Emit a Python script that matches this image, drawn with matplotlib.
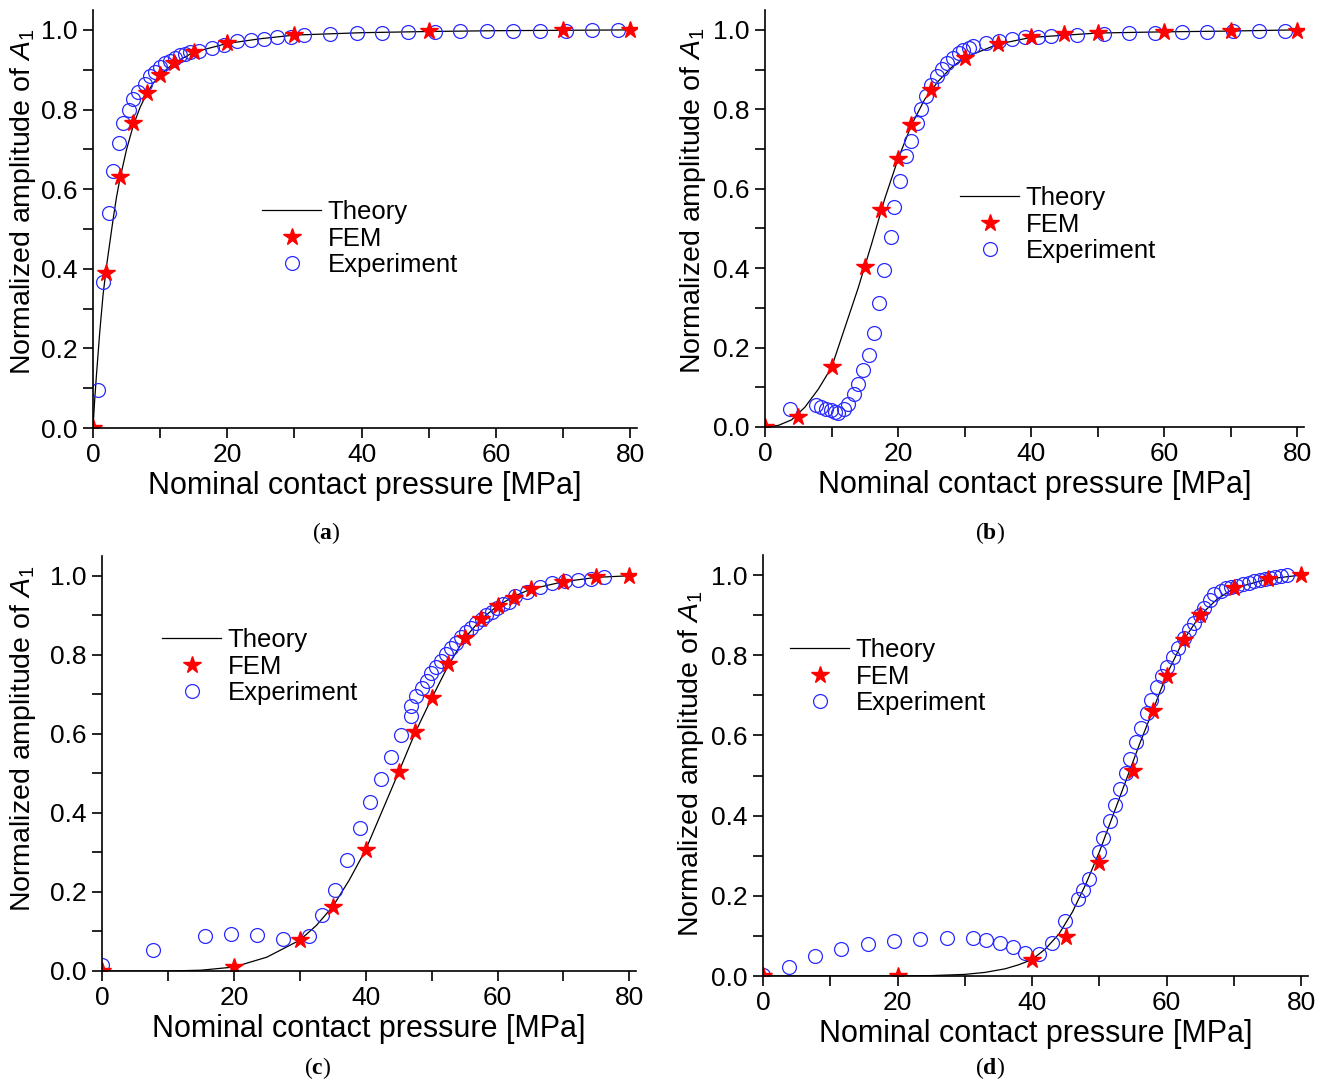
import matplotlib
matplotlib.use("Agg")
import matplotlib.pyplot as plt
from matplotlib.ticker import MultipleLocator

plt.rcParams['font.family'] = ['Liberation Sans', 'DejaVu Sans']
plt.rcParams['mathtext.fontset'] = 'custom'
plt.rcParams['mathtext.rm'] = 'Liberation Sans'
plt.rcParams['mathtext.it'] = 'Liberation Sans:italic'
plt.rcParams['mathtext.bf'] = 'Liberation Serif:bold'

# ---- panel (a) ----
theory_a_x = [0, 0.25, 0.5, 1, 1.5, 2, 2.5, 3, 3.5, 4, 5, 6, 7, 8, 9, 10, 12, 15, 20, 25, 30, 40, 50, 60, 70, 80]
theory_a_y = [0, 0.07, 0.13, 0.24, 0.335, 0.405, 0.465, 0.525, 0.58, 0.625, 0.70, 0.76, 0.805, 0.84, 0.867,
              0.887, 0.916, 0.944, 0.966, 0.978, 0.987, 0.993, 0.996, 0.998, 0.999, 1.0]
fem_a_x = [0, 2, 4, 6, 8, 10, 12, 15, 20, 30, 50, 70, 80]
fem_a_y = [0, 0.39, 0.63, 0.765, 0.842, 0.887, 0.916, 0.944, 0.966, 0.987, 0.996, 0.999, 1.0]
exp_a_x = [0.75, 1.5, 2.35, 3.0, 3.85, 4.5, 5.4, 6.0, 6.75, 7.75, 8.5, 9.25, 10.0, 10.75, 11.5, 12.25, 13.0,
           13.75, 14.5, 15.75, 17.65, 19.5, 21.5, 23.5, 25.4, 27.4, 29.5, 31.4, 35.25, 39.25, 43.0, 46.9,
           50.9, 54.7, 58.7, 62.6, 66.5, 70.4, 74.3, 78.2]
exp_a_y = [0.096, 0.367, 0.540, 0.645, 0.717, 0.765, 0.799, 0.826, 0.845, 0.864, 0.883, 0.895, 0.906, 0.916,
           0.923, 0.930, 0.936, 0.940, 0.944, 0.948, 0.955, 0.962, 0.971, 0.975, 0.978, 0.982, 0.983, 0.987,
           0.989, 0.992, 0.993, 0.994, 0.995, 0.996, 0.997, 0.997, 0.998, 0.998, 0.999, 0.999]

# ---- panel (b) ----
theory_b_x = [0, 2, 4, 6, 8, 10, 12, 14, 16, 18, 20, 22, 24, 26, 28, 30, 35, 40, 50, 60, 70, 80]
theory_b_y = [0, 0.004, 0.018, 0.05, 0.095, 0.15, 0.25, 0.35, 0.46, 0.575, 0.675, 0.76, 0.825, 0.87, 0.905,
              0.93, 0.964, 0.981, 0.992, 0.995, 0.997, 1.0]
fem_b_x = [0, 5, 10, 15, 17.5, 20, 22, 25, 30, 35, 40, 45, 50, 60, 70, 80]
fem_b_y = [0, 0.024, 0.150, 0.402, 0.546, 0.675, 0.760, 0.849, 0.930, 0.964, 0.981, 0.989, 0.992, 0.994,
           0.996, 0.997]
exp_b_x = [3.76, 7.67, 8.37, 9.12, 9.87, 10.5, 10.9, 11.8, 12.4, 13.3, 14.0, 14.8, 15.6, 16.4, 17.2, 17.9,
           18.9, 19.45, 20.3, 21.15, 21.9, 22.8, 23.5, 24.2, 25.0, 25.8, 26.6, 27.3, 28.2, 29.1, 29.8, 30.6,
           31.3, 33.2, 35.2, 37.1, 39.0, 41.0, 43.0, 46.9, 50.9, 54.7, 58.6, 62.6, 66.4, 70.4, 74.3, 78.2]
exp_b_y = [0.045, 0.055, 0.050, 0.046, 0.042, 0.038, 0.035, 0.046, 0.059, 0.082, 0.109, 0.143, 0.182, 0.237,
           0.313, 0.395, 0.479, 0.555, 0.620, 0.682, 0.721, 0.765, 0.800, 0.834, 0.861, 0.884, 0.901, 0.916,
           0.929, 0.941, 0.950, 0.955, 0.960, 0.966, 0.972, 0.976, 0.981, 0.983, 0.984, 0.988, 0.989, 0.991,
           0.993, 0.994, 0.995, 0.996, 0.996, 0.997]

# ---- panel (c) ----
theory_c_x = [0, 10, 15, 20, 25, 30, 32.5, 35, 37.5, 40, 42.5, 45, 47.5, 50, 52.5, 55, 57.5, 60, 62.5, 65,
              70, 75, 80]
theory_c_y = [0, 0, 0.002, 0.010, 0.035, 0.078, 0.115, 0.163, 0.23, 0.307, 0.405, 0.503, 0.603, 0.69, 0.772,
              0.842, 0.89, 0.924, 0.948, 0.966, 0.985, 0.996, 1.0]
fem_c_x = [0, 20, 30, 35, 40, 45, 47.5, 50, 52.5, 55, 57.5, 60, 62.5, 65, 70, 75, 80]
fem_c_y = [0, 0.010, 0.078, 0.163, 0.307, 0.503, 0.604, 0.690, 0.778, 0.842, 0.890, 0.924, 0.943, 0.966,
           0.985, 0.996, 1.0]
exp_c_x = [0, 7.77, 15.6, 19.5, 23.5, 27.4, 31.4, 33.35, 35.3, 37.2, 39.2, 40.7, 42.25, 43.8, 45.3, 46.9,
           46.9, 47.7, 48.5, 49.3, 49.95, 50.7, 51.4, 52.2, 52.9, 53.7, 54.5, 55.2, 56.0, 56.7, 57.6, 58.3,
           59.2, 59.95, 60.9, 61.7, 62.6, 64.5, 66.4, 68.3, 70.3, 72.2, 74.2, 76.1]
exp_c_y = [0.014, 0.054, 0.088, 0.093, 0.092, 0.080, 0.088, 0.141, 0.206, 0.281, 0.361, 0.427, 0.486, 0.541,
           0.598, 0.644, 0.670, 0.695, 0.716, 0.735, 0.753, 0.768, 0.785, 0.802, 0.816, 0.830, 0.844, 0.857,
           0.869, 0.880, 0.890, 0.901, 0.909, 0.918, 0.928, 0.934, 0.949, 0.960, 0.971, 0.981, 0.986, 0.990,
           0.993, 0.998]

# ---- panel (d) ----
theory_d_x = [0, 20, 25, 30, 33, 36, 38, 40, 42, 44, 46, 48, 50, 52, 54, 56, 58, 60, 62.5, 65, 67.5, 70,
              75, 80]
theory_d_y = [0, 0, 0.001, 0.004, 0.009, 0.018, 0.028, 0.041, 0.068, 0.105, 0.16, 0.23, 0.31, 0.40, 0.49,
              0.58, 0.665, 0.752, 0.838, 0.90, 0.94, 0.967, 0.99, 1.0]
fem_d_x = [0, 20, 40, 45, 50, 55, 58, 60, 62.5, 65, 70, 75, 80]
fem_d_y = [0, 0, 0.041, 0.097, 0.282, 0.512, 0.661, 0.749, 0.838, 0.900, 0.967, 0.990, 1.0]
exp_d_x = [0, 3.8, 7.8, 11.65, 15.6, 19.4, 23.4, 27.3, 31.2, 33.2, 35.2, 37.1, 39.0, 41.0, 43.0, 44.95,
           46.8, 47.6, 48.4, 49.9, 50.6, 51.5, 52.3, 53.0, 53.9, 54.6, 55.4, 56.2, 57.0, 57.7, 58.5, 59.3,
           60.1, 60.9, 61.7, 62.5, 63.3, 64.0, 64.9, 65.6, 66.4, 67.1, 68.0, 68.8, 69.5, 70.4, 71.3, 72.2,
           72.9, 73.8, 74.6, 75.4, 76.1, 77.0, 77.9]
exp_d_y = [0.002, 0.022, 0.049, 0.068, 0.079, 0.087, 0.093, 0.096, 0.095, 0.091, 0.082, 0.072, 0.058, 0.056,
           0.083, 0.136, 0.193, 0.215, 0.243, 0.309, 0.345, 0.387, 0.426, 0.466, 0.507, 0.542, 0.584, 0.619,
           0.656, 0.688, 0.720, 0.748, 0.770, 0.796, 0.819, 0.842, 0.863, 0.881, 0.900, 0.918, 0.938, 0.952,
           0.960, 0.968, 0.971, 0.973, 0.978, 0.981, 0.985, 0.988, 0.990, 0.993, 0.996, 0.998, 1.0]

W, H = 1327, 1082
fig = plt.figure(figsize=(W / 100, H / 100), dpi=100)

# axes boxes in pixels: left, right(x=81), bottom(y=0), top(y=1.05)
boxes = [(93, 637, 428, 10), (765, 1304, 427, 10), (102, 636, 971, 556), (763, 1308, 976, 555)]
legend_tl = [(262, 200), (960, 186), (162, 628), (790, 638)]
ylabel_pos = [(-0.101, 0.54), (-0.106, 0.542), (-0.12, 0.56), (-0.105, 0.505)]
captions = [('a', 326, 533), ('b', 990, 533), ('c', 318, 1068), ('d', 990, 1068)]
panels = [
    (theory_a_x, theory_a_y, fem_a_x, fem_a_y, exp_a_x, exp_a_y),
    (theory_b_x, theory_b_y, fem_b_x, fem_b_y, exp_b_x, exp_b_y),
    (theory_c_x, theory_c_y, fem_c_x, fem_c_y, exp_c_x, exp_c_y),
    (theory_d_x, theory_d_y, fem_d_x, fem_d_y, exp_d_x, exp_d_y),
]

for (l, r, b, t), (lx, ly), (yx, yy), (cap, cx, cy), (tx, ty, fx, fy, ex, ey) in zip(
        boxes, legend_tl, ylabel_pos, captions, panels):
    ax = fig.add_axes([l / W, 1 - b / H, (r - l) / W, (b - t) / H])
    ax.plot(tx, ty, color='black', lw=0.9, label='Theory')
    ax.plot(ex, ey, linestyle='none', marker='o', ms=10, mfc='none', mec='#2a2aff', mew=0.9,
            label='Experiment')
    ax.plot(fx, fy, linestyle='none', marker='*', ms=13, color='red', mec='red', label='FEM')
    ax.set_xlim(0, 81)
    ax.set_ylim(0, 1.05)
    ax.xaxis.set_major_locator(MultipleLocator(20))
    ax.xaxis.set_minor_locator(MultipleLocator(10))
    ax.yaxis.set_major_locator(MultipleLocator(0.2))
    ax.yaxis.set_minor_locator(MultipleLocator(0.1))
    ax.yaxis.set_major_formatter(plt.FormatStrFormatter('%.1f'))
    for s in ('top', 'right'):
        ax.spines[s].set_visible(False)
    for s in ('left', 'bottom'):
        ax.spines[s].set_linewidth(1.2)
    ax.tick_params(which='both', direction='out', length=7, width=1.2, labelsize=19, pad=4)
    ax.set_xlabel('Nominal contact pressure [MPa]', fontsize=22, labelpad=3)
    ax.set_ylabel(r'Normalized amplitude of $A_1$', fontsize=20.5)
    ax.yaxis.set_label_coords(yx, yy)
    h, lab = ax.get_legend_handles_labels()
    order = [0, 2, 1]
    ax.legend([h[i] for i in order], [lab[i] for i in order], loc='upper left',
              bbox_to_anchor=(lx / W, 1 - ly / H), bbox_transform=fig.transFigure,
              frameon=False, fontsize=18.5, borderpad=0, borderaxespad=0, handlelength=2.3,
              handletextpad=0.25, labelspacing=0.1, numpoints=1)
    fig.text(cx / W, 1 - cy / H, '($\\mathbf{%s}$)' % cap, family='Liberation Serif', fontsize=17,
             ha='center', va='center')

fig.savefig('out.png', dpi=100)
